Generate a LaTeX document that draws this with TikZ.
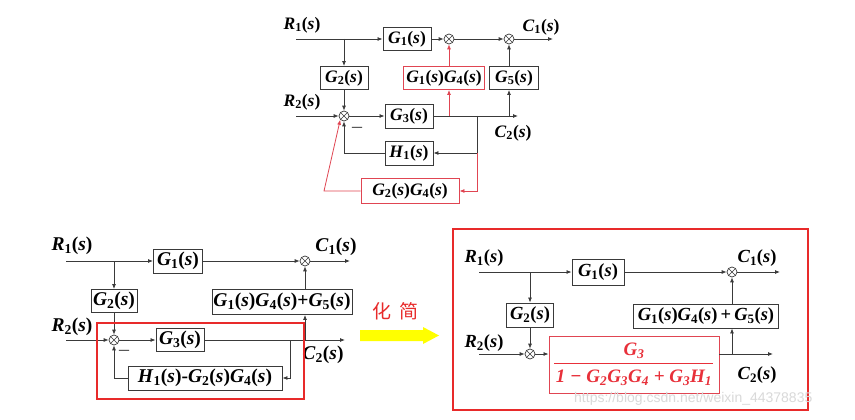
\documentclass[tikz,border=0pt]{standalone}
\usepackage{fontspec}
\setmainfont{Liberation Serif}
\newfontfamily\cjkf{Noto Sans CJK SC}
\newfontfamily\wmf{Liberation Sans}
\usetikzlibrary{arrows.meta}
\definecolor{ln}{HTML}{3A3A3A}
\definecolor{rl}{HTML}{E04552}
\definecolor{fr}{HTML}{E82A2A}
\definecolor{ftx}{HTML}{E8303A}
\definecolor{yl}{HTML}{FFFF00}
\newcommand\fA{\fontsize{17.5}{20}\selectfont\bfseries}
\newcommand\fB{\fontsize{19.5}{22}\selectfont\bfseries}
\newcommand\fC{\fontsize{18.5}{21}\selectfont\bfseries}
\newcommand\fD{\fontsize{19}{21}\selectfont\bfseries\itshape}
\newcommand\tfn[2]{\textit{#1}\textsubscript{#2}(\textit{s})}
\newcommand\vsub[2]{#1\textsubscript{#2}}
\tikzset{
 sig/.style={draw=ln, line width=0.8pt},
 rsig/.style={draw=rl, line width=0.8pt},
 arr/.style={-{Latex[length=5pt,width=4pt]}},
 blk/.style={draw=ln, line width=0.9pt, fill=white, inner sep=1.5pt, text=black},
 rblk/.style={blk, draw=rl},
 sumj/.style={circle, draw=ln, line width=0.7pt, minimum size=10pt, inner sep=0pt, fill=white,
   path picture={\draw[ln,line width=0.6pt] (path picture bounding box.north west) -- (path picture bounding box.south east) (path picture bounding box.north east) -- (path picture bounding box.south west);}},
 lbl/.style={inner sep=0pt, text=black},
 minus/.style={inner sep=0pt, font=\fontsize{20}{20}\selectfont, text=ln},
 frame/.style={draw=fr, line width=2.4pt},
}
\begin{document}
\begin{tikzpicture}[x=1pt,y=-1pt]
\useasboundingbox (0,0) rectangle (855,420);
\fill[white] (0,0) rectangle (855,420);

% ===================== top diagram =====================
\node[lbl,font=\fA] (tR1) at (302,25) {\tfn{R}{1}};
\coordinate (tin1) at (296,39);
\coordinate (tb1) at (344,39);
\node[blk,font=\fA,minimum width=48pt,minimum height=23pt] (tG1) at (407,39) {\tfn{G}{1}};
\node[sumj] (ts1) at (449,39) {};
\node[sumj] (ts2) at (509,39) {};
\coordinate (tout1) at (553,39);
\node[lbl,font=\fA] (tC1) at (541,27) {\tfn{C}{1}};
\node[blk,font=\fA,minimum width=48pt,minimum height=23pt] (tG2) at (344,78) {\tfn{G}{2}};
\node[rblk,font=\fA,minimum width=81pt,minimum height=23pt] (tG14) at (444,78) {\tfn{G}{1}\tfn{G}{4}};
\node[blk,font=\fA,minimum width=49pt,minimum height=23pt] (tG5) at (514,78) {\tfn{G}{5}};
\node[lbl,font=\fA] (tR2) at (302,102) {\tfn{R}{2}};
\coordinate (tin2) at (296,116);
\node[sumj] (ts3) at (344,116) {};
\node[minus] (tm) at (357,130) {–};
\node[blk,font=\fA,minimum width=48pt,minimum height=24pt] (tG3) at (409,116) {\tfn{G}{3}};
\coordinate (tout2) at (518,116);
\node[lbl,font=\fA] (tC2) at (513,133) {\tfn{C}{2}};
\coordinate (tb449) at (449,116);
\coordinate (tb509) at (509,116);
\coordinate (tb477) at (477,116);
\node[blk,font=\fA,minimum width=48pt,minimum height=24pt] (tH1) at (409,153) {\tfn{H}{1}};
\node[rblk,font=\fA,minimum width=98pt,minimum height=25pt] (tG24) at (410,191) {\tfn{G}{2}\tfn{G}{4}};
\coordinate (trk) at (324,191);

\draw[sig,arr] (tin1) -- (tG1);
\draw[sig,arr] (tG1) -- (ts1);
\draw[sig,arr] (ts1) -- (ts2);
\draw[sig,arr] (ts2) -- (tout1);
\draw[sig,arr] (tb1) -- (tG2);
\draw[sig,arr] (tG2) -- (ts3);
\draw[sig,arr] (tin2) -- (ts3);
\draw[sig,arr] (ts3) -- (tG3);
\draw[sig,arr] (tG3) -- (tout2);
\draw[rsig,arr] (tb449) -- (tb449 |- tG14.south);
\draw[rsig,arr] (tG14.north -| ts1) -- (ts1);
\draw[sig,arr] (tb509) -- (tb509 |- tG5.south);
\draw[sig,arr] (tG5.north -| ts2) -- (ts2);
\draw[sig,arr] (tb477) |- (tH1);
\draw[rsig,arr] (tb477 |- tH1) |- (tG24);
\draw[sig,arr] (tH1) -| (ts3);
\draw[rsig,arr] (tG24) -- (trk) -- (ts3.south west);

% ===================== bottom-left diagram =====================
\node[lbl,font=\fB] (lR1) at (72,246) {\tfn{R}{1}};
\coordinate (lin1) at (66,261);
\coordinate (lb1) at (114,261);
\node[blk,font=\fB,minimum width=49pt,minimum height=24pt] (lG1) at (178,261) {\tfn{G}{1}};
\node[sumj] (ls1) at (305,261) {};
\coordinate (lout1) at (350,261);
\node[lbl,font=\fB] (lC1) at (336,247) {\tfn{C}{1}};
\node[blk,font=\fB,minimum width=46pt,minimum height=23pt] (lG2) at (114,301) {\tfn{G}{2}};
\node[blk,font=\fB,minimum width=140pt,minimum height=25pt] (lG145) at (282,302) {\tfn{G}{1}\tfn{G}{4}+\tfn{G}{5}};
\node[lbl,font=\fB] (lR2) at (72,327) {\tfn{R}{2}};
\coordinate (lin2) at (66,340);
\node[sumj] (ls2) at (114,340) {};
\node[minus] (lm) at (124,353) {–};
\node[blk,font=\fB,minimum width=48pt,minimum height=23pt] (lG3) at (180,340) {\tfn{G}{3}};
\coordinate (lout2) at (345,340);
\node[lbl,font=\fB] (lC2) at (323,355) {\tfn{C}{2}};
\coordinate (lb305) at (305,340);
\coordinate (lb290) at (290,340);
\node[blk,font=\fB,minimum width=154pt,minimum height=24pt] (lH) at (205,378) {\tfn{H}{1}-\tfn{G}{2}\tfn{G}{4}};

\draw[sig,arr] (lin1) -- (lG1);
\draw[sig,arr] (lG1) -- (ls1);
\draw[sig,arr] (ls1) -- (lout1);
\draw[sig,arr] (lb1) -- (lG2);
\draw[sig,arr] (lG2) -- (ls2);
\draw[sig,arr] (lin2) -- (ls2);
\draw[sig,arr] (ls2) -- (lG3);
\draw[sig,arr] (lG3) -- (lout2);
\draw[sig,arr] (lb305) -- (lb305 |- lG145.south);
\draw[sig,arr] (lG145.north -| ls1) -- (ls1);
\draw[sig,arr] (lb290) |- (lH);
\draw[sig,arr] (lH) -| (ls2);
\node[frame,minimum width=207pt,minimum height=76pt,inner sep=0pt] (lfr) at (200.5,361) {};

% ===================== arrow =====================
\node[text=fr,font=\cjkf\fontsize{19}{19}\selectfont,inner sep=0pt] (hj) at (395,311) {化\hspace{8pt}简};
\fill[yl] (360,330) -- (423,330) -- (423,327) -- (439,335.5) -- (423,344) -- (423,341) -- (360,341) -- cycle;

% ===================== bottom-right diagram =====================
\node[frame,minimum width=355pt,minimum height=181pt,inner sep=0pt] (rfr) at (630.5,319.5) {};
\node[lbl,font=\fC] (rR1) at (484,258) {\tfn{R}{1}};
\coordinate (rin1) at (479,272);
\coordinate (rb1) at (530,272);
\node[blk,font=\fC,minimum width=52pt,minimum height=26pt] (rG1) at (598,272) {\tfn{G}{1}};
\node[sumj] (rs1) at (732,272) {};
\coordinate (rout1) at (780,272);
\node[lbl,font=\fC] (rC1) at (757,258) {\tfn{C}{1}};
\node[blk,font=\fC,minimum width=47pt,minimum height=24pt] (rG2) at (530,315) {\tfn{G}{2}};
\node[blk,font=\fC,minimum width=145pt,minimum height=24pt] (rG145) at (706,316) {\tfn{G}{1}\tfn{G}{4}\,+\,\tfn{G}{5}};
\node[lbl,font=\fC] (rR2) at (484,343) {\tfn{R}{2}};
\coordinate (rin2) at (479,354);
\node[sumj] (rs2) at (530,354) {};
\node[draw=rl,line width=0.9pt,fill=white,minimum width=170pt,minimum height=57pt] (rF) at (634,364.5) {};
\node[text=ftx,font=\fD,inner sep=0pt] (rFn) at (634,351) {\vsub{G}{3}};
\draw[ftx,line width=1pt] (554,363) -- (713,363);
\node[text=ftx,font=\fD,inner sep=0pt] (rFd) at (634,378) {1 − \vsub{G}{2}\vsub{G}{3}\vsub{G}{4} + \vsub{G}{3}\vsub{H}{1}};
\coordinate (rout2) at (773,354);
\coordinate (rb732) at (732,354);
\node[lbl,font=\fC] (rC2) at (757,375) {\tfn{C}{2}};

\draw[sig,arr] (rin1) -- (rG1);
\draw[sig,arr] (rG1) -- (rs1);
\draw[sig,arr] (rs1) -- (rout1);
\draw[sig,arr] (rb1) -- (rG2);
\draw[sig,arr] (rG2) -- (rs2);
\draw[sig,arr] (rin2) -- (rs2);
\draw[sig,arr] (rs2) -- (rs2 -| rF.west);
\draw[sig,arr] (rs2 -| rF.east) -- (rout2);
\draw[sig,arr] (rb732) -- (rb732 |- rG145.south);
\draw[sig,arr] (rG145.north -| rs1) -- (rs1);

\node[anchor=west,text=gray!30,font=\wmf\fontsize{14}{14}\selectfont,inner sep=0pt] (wm) at (574,399) {https://blog.csdn.net/weixin\_44378835};
\end{tikzpicture}
\end{document}
